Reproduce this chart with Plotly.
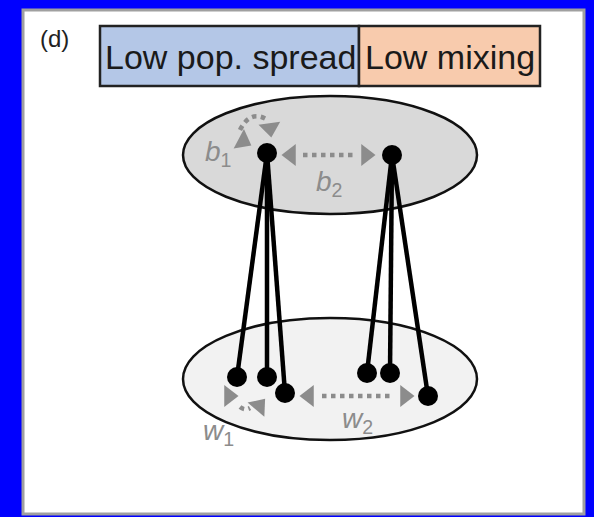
import plotly.graph_objects as go

# --- diagram data (pixel-space coordinates of the schematic) ---
panel_label = "(d)"
header_labels = ["Low pop. spread", "Low mixing"]
header_colors = ["#B4C7E7", "#F8CBAD"]

# populations (ellipses): center x, center y, half-width, half-height, fill
pop_cx = [330, 330]
pop_cy = [155, 379]
pop_rx = [147, 147]
pop_ry = [59, 61]
pop_fill = ["#D9D9D9", "#F2F2F2"]

# nodes
top_x = [267, 392]
top_y = [153, 155]
bot_x = [237, 267, 285, 367, 390, 428]
bot_y = [377, 377, 393, 373, 373, 396]
bot_parent = [0, 0, 0, 1, 1, 1]

GRAY = "#8C8C8C"

fig = go.Figure()

shapes = []
# panel
shapes.append(dict(type="rect", x0=23, x1=584, y0=10, y1=514, line=dict(color="#A0A0A0", width=3),
                   fillcolor="white", layer="below"))
# header box
shapes.append(dict(type="rect", x0=100, x1=359, y0=26, y1=86, line=dict(color="#222222", width=2.5),
                   fillcolor=header_colors[0], layer="below"))
shapes.append(dict(type="rect", x0=359, x1=540, y0=26, y1=86, line=dict(color="#222222", width=2.5),
                   fillcolor=header_colors[1], layer="below"))
# ellipses
for cx, cy, rx, ry, fc in zip(pop_cx, pop_cy, pop_rx, pop_ry, pop_fill):
    shapes.append(dict(type="circle", x0=cx - rx, x1=cx + rx, y0=cy - ry, y1=cy + ry,
                       line=dict(color="#111111", width=2.5), fillcolor=fc, layer="below"))

# dotted connectors
dot = dict(color=GRAY, width=4.5, dash="dot")
shapes.append(dict(type="line", x0=303, x1=355, y0=155, y1=155, line=dot))
shapes.append(dict(type="line", x0=322, x1=394, y0=396, y1=396, line=dot))
shapes.append(dict(type="path", path="M 240 130 Q 250 110 266 119", line=dot))
shapes.append(dict(type="path", path="M 240 407 Q 245 411 250 408", line=dot))

# links between populations
lx, ly = [], []
for bx, by, p in zip(bot_x, bot_y, bot_parent):
    lx += [top_x[p], bx, None]
    ly += [top_y[p], by, None]
fig.add_trace(go.Scatter(x=lx, y=ly, mode="lines", line=dict(color="black", width=4.5),
                         hoverinfo="skip", showlegend=False))

# arrowheads
ah_x = [291, 366, 243, 270, 309, 405, 229, 259]
ah_y = [155, 155, 141, 128, 396, 396, 396, 406]
ah_ang = [-90, 90, 118, 172, -90, 90, 90, 40]
fig.add_trace(go.Scatter(x=ah_x, y=ah_y, mode="markers",
                         marker=dict(symbol="triangle-up", size=19, color=GRAY, angle=ah_ang,
                                     line=dict(width=0)),
                         hoverinfo="skip", showlegend=False))

# nodes
fig.add_trace(go.Scatter(x=top_x + bot_x, y=top_y + bot_y, mode="markers",
                         marker=dict(size=20, color="black", line=dict(width=0)),
                         hoverinfo="skip", showlegend=False))

ann = []
ann.append(dict(x=54, y=38, text=panel_label, showarrow=False, font=dict(size=24, color="#222222")))
ann.append(dict(x=230, y=57, text=header_labels[0], showarrow=False, font=dict(size=34, color="#1a1a1a")))
ann.append(dict(x=450, y=57, text=header_labels[1], showarrow=False, font=dict(size=34, color="#1a1a1a")))
for t, x, y in [("<i>b</i><sub>1</sub>", 218, 153), ("<i>b</i><sub>2</sub>", 329, 183),
                ("<i>w</i><sub>1</sub>", 218, 432), ("<i>w</i><sub>2</sub>", 357, 420)]:
    ann.append(dict(x=x, y=y, text=t, showarrow=False, font=dict(size=28, color=GRAY)))

fig.update_layout(
    width=594, height=517, margin=dict(l=0, r=0, t=0, b=0),
    paper_bgcolor="#0000FF", plot_bgcolor="#0000FF",
    font=dict(family="Liberation Sans, Arial, sans-serif"),
    xaxis=dict(range=[0, 594], visible=False, fixedrange=True),
    yaxis=dict(range=[517, 0], visible=False, fixedrange=True),
    shapes=shapes, annotations=ann, showlegend=False,
)
fig.write_html("out.html", config={"displayModeBar": False},
               post_script="document.body.style.margin='0';document.body.style.overflow='hidden';")
